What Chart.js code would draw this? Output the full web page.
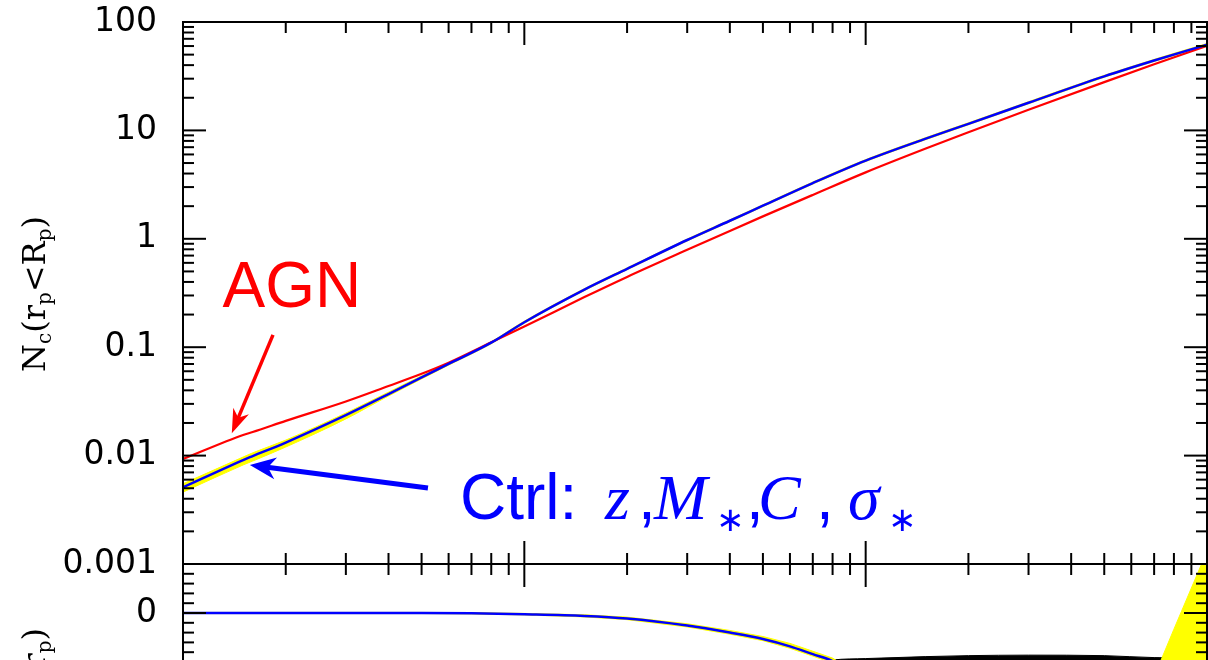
<!DOCTYPE html>
<html lang="en">
<head>
  <meta charset="UTF-8">
  <title>Nc(rp &lt; Rp) : AGN vs control</title>
  <script src="https://cdn.jsdelivr.net/npm/chart.js"></script>
  <style>
    body {
      margin: 0;
      background: #fff;
      overflow: hidden;
      width: 1208px;
      height: 660px;
      position: relative;
    }
    canvas { position: absolute; left: 0; }
    #topPanel { top: 0; }
    #bottomPanel { top: 540px; }
  </style>
</head>
<body>
  <canvas id="topPanel" width="1208" height="600"></canvas>
  <canvas id="bottomPanel" width="1208" height="400"></canvas>

  <script>
    // --- data ---
    const radii  = [1, 1.5, 1.6, 2, 3, 4, 5, 6, 8, 10, 15, 20, 30, 40, 50, 70, 100, 150, 200, 300, 500, 700, 1000];
    const agn    = [0.0093, 0.0155, 0.0165, 0.0209, 0.0316, 0.0439, 0.0569, 0.0720, 0.111, 0.155, 0.29, 0.445, 0.791, 1.183, 1.61, 2.54, 4.1, 6.8, 9.6, 15.5, 27.9, 40.7, 60.2];
    const ctrl   = [0.0051, 0.0091, 0.0099, 0.0132, 0.0236, 0.0369, 0.0527, 0.0700, 0.110, 0.170, 0.340, 0.528, 0.975, 1.467, 2.021, 3.27, 5.27, 8.4, 11.5, 18.0, 31.5, 44.1, 61.9];
    const ctrlLo = [0.0046, 0.0082, 0.0089, 0.0120, 0.0218, 0.0355, 0.0510, 0.0683, 0.1075, 0.166, 0.333, 0.518, 0.955, 1.437, 1.98, 3.20, 5.16, 8.22, 11.27, 17.6, 30.9, 43.2, 60.6];
    const ctrlHi = [0.0055, 0.0097, 0.0106, 0.0139, 0.0247, 0.0385, 0.0544, 0.0717, 0.1125, 0.174, 0.347, 0.539, 0.995, 1.497, 2.06, 3.34, 5.38, 8.58, 11.75, 18.4, 32.2, 45.2, 63.4];

    const yTickVals   = [0.001, 0.01, 0.1, 1, 10, 100];
    const yTickLabels = ['0.001', '0.01', '0.1', '1', '10', '100'];

    // lower panel
    const bottomRadii = [1, 2, 3, 5, 7, 10, 15, 20, 30, 40, 50, 60, 70, 80, 100, 150, 200, 300, 500, 700, 800, 900, 1000];
    const ratioCtrl   = [0, 0, 0, 0, -0.003, -0.013, -0.03, -0.056, -0.128, -0.2, -0.265, -0.34, -0.42, -0.49, -0.7, null, null, null, null, null, null, null, null];
    const bandHi      = [0.006, 0.006, 0.006, 0.006, 0.004, -0.004, -0.018, -0.042, -0.11, -0.178, -0.24, -0.31, -0.39, -0.46, -0.67, -0.85, -0.95, -1.0, -1.0, -0.65, -0.165, 0.255, 0.63];
    const bandLo      = [-0.006, -0.006, -0.006, -0.006, -0.01, -0.02, -0.04, -0.068, -0.142, -0.216, -0.282, -0.36, -0.44, -0.51, -0.73, -1.5, -1.5, -1.5, -1.5, -1.5, -1.5, -1.5, -1.5];
    const agnBandRadii = [75, 80, 100, 150, 200, 300, 500, 700, 800, 850];
    const agnBandTop   = [-0.5, -0.48, -0.465, -0.445, -0.435, -0.43, -0.435, -0.455, -0.47, -0.6];

    const bottomTickVals   = [0];
    const bottomTickLabels = ['0'];

    // annotation anchors (data coordinates)
    const agnArrow  = { from: { x: 1.835, y: 0.130 }, to: { x: 1.39, y: 0.0161 } };
    const ctrlArrow = { from: { x: 5.22, y: 0.00502 }, to: { x: 1.57, y: 0.00819 } };
    const agnLabelAt  = { x: 1.305, y: 0.235 };
    const ctrlLabelAt = { x: 6.48, y: 0.0026 };

    const RED = '#ff0000', BLUE = '#0000ff', YELLOW = '#ffff00';
    const TICK_FONT = { family: 'DejaVu Sans', size: 33 };

    const pts = (xs, ys) => xs.map((x, i) => ({ x: x, y: ys[i] }));

    function line(ctx, x1, y1, x2, y2) {
      ctx.beginPath();
      ctx.moveTo(x1, y1);
      ctx.lineTo(x2, y2);
      ctx.stroke();
    }

    function arrow(ctx, x1, y1, x2, y2, color, w, headLen, headW) {
      const ang = Math.atan2(y2 - y1, x2 - x1);
      const c = Math.cos(ang), s = Math.sin(ang);
      const bx = x2 - headLen * c, by = y2 - headLen * s;
      ctx.strokeStyle = color;
      ctx.lineWidth = w;
      line(ctx, x1, y1, x2 - headLen * 0.6 * c, y2 - headLen * 0.6 * s);
      ctx.fillStyle = color;
      ctx.beginPath();
      ctx.moveTo(x2, y2);
      ctx.lineTo(bx + headW / 2 * s, by - headW / 2 * c);
      ctx.lineTo(x2 - headLen * 0.7 * c, y2 - headLen * 0.7 * s);
      ctx.lineTo(bx - headW / 2 * s, by + headW / 2 * c);
      ctx.closePath();
      ctx.fill();
    }

    // rotated label with subscripts; parts = [text, isSub]
    function rotatedLabel(ctx, parts, x, y, alignEnd) {
      const main = '32px "DejaVu Serif"', sub = '20px "DejaVu Serif"';
      ctx.save();
      ctx.translate(x, y);
      ctx.rotate(-Math.PI / 2);
      ctx.fillStyle = '#000';
      ctx.textBaseline = 'alphabetic';
      ctx.textAlign = 'left';
      let total = 0;
      parts.forEach(p => { ctx.font = p[1] ? sub : main; total += ctx.measureText(p[0]).width; });
      let cx = alignEnd ? -total : -total / 2;
      parts.forEach(p => {
        ctx.font = p[1] ? sub : main;
        ctx.fillText(p[0], cx, p[1] ? 6 : 0);
        cx += ctx.measureText(p[0]).width;
      });
      ctx.restore();
    }

    const xMarks = [];
    for (let d = 0; d < 3; d++) for (let k = 1; k < 10; k++) xMarks.push([k * Math.pow(10, d), k === 1]);
    xMarks.push([1000, true]);

    const yMarksTop = [];
    for (let d = -3; d < 2; d++) for (let k = 1; k < 10; k++) yMarksTop.push([k * Math.pow(10, d), k === 1]);
    yMarksTop.push([100, true]);

    const yMarksBottom = [];
    for (let i = -15; i <= 5; i++) yMarksBottom.push([i / 10, i % 5 === 0]);

    function drawMarks(chart, yMarks) {
      const ctx = chart.ctx, a = chart.chartArea;
      const sx = chart.scales.x, sy = chart.scales.y;
      ctx.save();
      ctx.strokeStyle = '#000';
      ctx.lineWidth = 2;
      xMarks.forEach(([v, major]) => {
        const p = sx.getPixelForValue(v), len = major ? 23 : 11;
        line(ctx, p, a.top, p, a.top + len);
        line(ctx, p, a.bottom, p, a.bottom - len);
      });
      yMarks.forEach(([v, major]) => {
        const p = sy.getPixelForValue(v), len = major ? 23 : 11;
        if (p < a.top - 1 || p > a.bottom + 1) return;
        line(ctx, a.left, p, a.left + len, p);
        line(ctx, a.right, p, a.right - len, p);
      });
      ctx.strokeRect(a.left, a.top, a.right - a.left, a.bottom - a.top);
      ctx.restore();
    }

    const topDecor = {
      id: 'topDecor',
      afterDraw(chart) {
        const ctx = chart.ctx, sx = chart.scales.x, sy = chart.scales.y;
        drawMarks(chart, yMarksTop);
        const P = d => [sx.getPixelForValue(d.x), sy.getPixelForValue(d.y)];

        ctx.save();
        const [a1x, a1y] = P(agnArrow.from), [a2x, a2y] = P(agnArrow.to);
        arrow(ctx, a1x, a1y, a2x, a2y, RED, 3.5, 24, 17);
        const [c1x, c1y] = P(ctrlArrow.from), [c2x, c2y] = P(ctrlArrow.to);
        arrow(ctx, c1x, c1y, c2x, c2y, BLUE, 5, 26, 22);

        ctx.textBaseline = 'alphabetic';
        ctx.textAlign = 'left';
        const [gx, gy] = P(agnLabelAt);
        ctx.fillStyle = RED;
        ctx.font = '64px "Liberation Sans"';
        ctx.fillText('AGN', gx, gy);

        const [tx, ty] = P(ctrlLabelAt);
        ctx.fillStyle = BLUE;
        const sans = '64px "Liberation Sans"', ital = 'italic 64px "Liberation Serif"', star = '34px "DejaVu Sans"';
        const pieces = [
          ['Ctrl:', sans, 0, 0], ['z', ital, 145, 0], [',', sans, 178, 0], ['M', ital, 194, 0],
          ['\u2217', star, 256, 12], [',', sans, 286, 0], ['C', ital, 298, 0], [',', sans, 356, 0],
          ['\u03c3', ital, 388, 0], ['\u2217', star, 428, 12]
        ];
        pieces.forEach(([t, f, dx, dy]) => { ctx.font = f; ctx.fillText(t, tx + dx, ty + dy); });
        ctx.restore();

        rotatedLabel(ctx, [['N', 0], ['c', 1], ['(r', 0], ['p', 1], ['<R', 0], ['p', 1], [')', 0]], 45, 294, false);
      }
    };

    const bottomDecor = {
      id: 'bottomDecor',
      afterDraw(chart) {
        drawMarks(chart, yMarksBottom);
        rotatedLabel(chart.ctx, [['\u0394', 0], ['(r', 0], ['p', 1], [')', 0]], 45, 88, true);
      }
    };

    const yTicks = (vals, labels) => ({
      afterFit(s) { s.width = 183; s.paddingTop = 0; s.paddingBottom = 0; },
      afterBuildTicks(s) { s.ticks = vals.map(v => ({ value: v })); },
      grid: { display: false, drawTicks: false },
      border: { display: false },
      ticks: { padding: 26, color: '#000', font: TICK_FONT, autoSkip: false, callback: (v, i) => labels[i] }
    });

    new Chart(document.getElementById('topPanel'), {
      type: 'line',
      data: {
        datasets: [
          { label: 'Ctrl', data: pts(radii, ctrl), borderColor: BLUE, borderWidth: 2.5, pointRadius: 0, cubicInterpolationMode: 'monotone', fill: false },
          { label: 'AGN', data: pts(radii, agn), borderColor: RED, borderWidth: 2.2, pointRadius: 0, cubicInterpolationMode: 'monotone', fill: false },
          { label: 'Ctrl upper', data: pts(radii, ctrlHi), borderColor: YELLOW, backgroundColor: YELLOW, borderWidth: 1, pointRadius: 0, cubicInterpolationMode: 'monotone', fill: '+1' },
          { label: 'Ctrl lower', data: pts(radii, ctrlLo), borderColor: YELLOW, borderWidth: 1, pointRadius: 0, cubicInterpolationMode: 'monotone', fill: false }
        ]
      },
      options: {
        responsive: false,
        animation: false,
        devicePixelRatio: 1,
        layout: { autoPadding: false, padding: { left: 0, top: 22, right: 1, bottom: 36 } },
        plugins: { legend: { display: false }, tooltip: { enabled: false } },
        scales: {
          x: { type: 'logarithmic', min: 1, max: 1000, display: false },
          y: Object.assign({ type: 'logarithmic', min: 0.001, max: 100 }, yTicks(yTickVals, yTickLabels))
        }
      },
      plugins: [topDecor]
    });

    new Chart(document.getElementById('bottomPanel'), {
      type: 'line',
      data: {
        datasets: [
          { label: 'Ctrl ratio', data: pts(bottomRadii, ratioCtrl), borderColor: BLUE, borderWidth: 2.5, pointRadius: 0, cubicInterpolationMode: 'monotone', fill: false },
          { label: 'Ctrl band upper', data: pts(bottomRadii, bandHi), borderColor: YELLOW, backgroundColor: YELLOW, borderWidth: 1, pointRadius: 0, tension: 0, fill: '+1' },
          { label: 'Ctrl band lower', data: pts(bottomRadii, bandLo), borderColor: YELLOW, borderWidth: 1, pointRadius: 0, tension: 0, fill: false },
          { label: 'AGN band', data: pts(agnBandRadii, agnBandTop), borderColor: '#000', backgroundColor: '#000', borderWidth: 1, pointRadius: 0, cubicInterpolationMode: 'monotone', fill: 'start' }
        ]
      },
      options: {
        responsive: false,
        animation: false,
        devicePixelRatio: 1,
        layout: { autoPadding: false, padding: { left: 0, top: 24, right: 1, bottom: 180 } },
        plugins: { legend: { display: false }, tooltip: { enabled: false } },
        scales: {
          x: { type: 'logarithmic', min: 1, max: 1000, display: false },
          y: Object.assign({ type: 'linear', min: -1.5, max: 0.5 }, yTicks(bottomTickVals, bottomTickLabels))
        }
      },
      plugins: [bottomDecor]
    });
  </script>
</body>
</html>
